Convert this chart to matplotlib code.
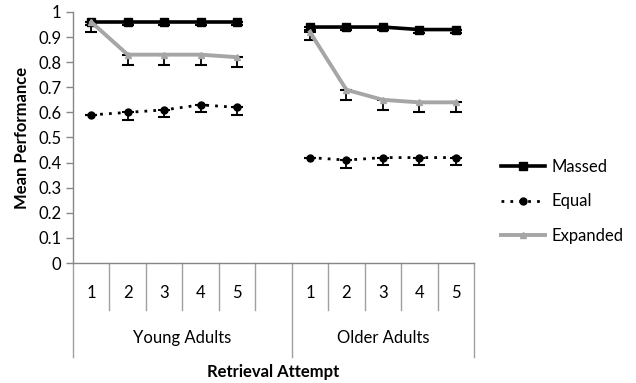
import matplotlib.pyplot as plt
import numpy as np

plt.rcParams['font.family'] = ['Lato', 'DejaVu Sans']

attempts = ['1', '2', '3', '4', '5']
groups = ['Young Adults', 'Older Adults']

massed_young = [0.96, 0.96, 0.96, 0.96, 0.96]
massed_older = [0.94, 0.94, 0.94, 0.93, 0.93]
equal_young = [0.59, 0.60, 0.61, 0.63, 0.62]
equal_older = [0.42, 0.41, 0.42, 0.42, 0.42]
expanded_young = [0.96, 0.83, 0.83, 0.83, 0.82]
expanded_older = [0.92, 0.69, 0.65, 0.64, 0.64]

massed_err_young = [0.01, 0.01, 0.01, 0.01, 0.01]
massed_err_older = [0.01, 0.01, 0.01, 0.015, 0.015]
equal_err_young = [0.0, 0.03, 0.03, 0.03, 0.03]
equal_err_older = [0.0, 0.03, 0.03, 0.03, 0.03]
expanded_err_young = [0.04, 0.04, 0.04, 0.04, 0.04]
expanded_err_older = [0.03, 0.04, 0.04, 0.04, 0.04]

x_young = np.arange(5)
x_older = np.arange(6, 11)

fig = plt.figure(figsize=(6.36, 3.83), dpi=100)
ax = fig.add_axes([0.1148, 0.3133, 0.6305, 0.6554])

series = [
    ('Massed', massed_young, massed_older, massed_err_young, massed_err_older,
     dict(color='black', lw=2.6, ls='-', marker='s', ms=5.5)),
    ('Equal', equal_young, equal_older, equal_err_young, equal_err_older,
     dict(color='black', lw=2.0, ls=(0, (1, 2.2)), marker='o', ms=5)),
    ('Expanded', expanded_young, expanded_older, expanded_err_young, expanded_err_older,
     dict(color='#a6a6a6', lw=2.8, ls='-', marker='^', ms=4.5)),
]

handles = []
for name, yy, yo, ey, eo, st in series:
    for xs, ys, es in [(x_young, yy, ey), (x_older, yo, eo)]:
        ax.errorbar(xs, ys, yerr=[es, np.zeros(len(es))], fmt='none',
                    ecolor='black', elinewidth=1.3, capsize=4, capthick=1.5, zorder=2)
        h, = ax.plot(xs, ys, color=st['color'], lw=st['lw'], ls=st['ls'],
                     marker=st['marker'], ms=st['ms'], mfc=st['color'],
                     mec=st['color'], zorder=3)
    handles.append(h)

ax.set_xlim(-0.5, 10.5)
ax.set_ylim(0, 1)
ax.set_yticks(np.arange(0, 1.01, 0.1))
ax.set_yticklabels(['0', '0.1', '0.2', '0.3', '0.4', '0.5', '0.6', '0.7', '0.8', '0.9', '1'])
ax.tick_params(axis='y', colors='#868686', labelcolor='black', labelsize=12, length=5, width=1)
ax.set_xticks([])
for s in ['top', 'right']:
    ax.spines[s].set_visible(False)
for s in ['left', 'bottom']:
    ax.spines[s].set_color('#868686')
    ax.spines[s].set_linewidth(1)

# category axis
trans = ax.get_xaxis_transform()
for b in np.arange(-0.5, 11, 1):
    depth = -0.375 if b in (-0.5, 5.5, 10.5) else -0.187
    ax.plot([b, b], [0, depth], transform=trans, color='#a0a0a0', lw=1, clip_on=False)
for xs in [x_young, x_older]:
    for x, lab in zip(xs, attempts):
        ax.text(x, -0.12, lab, transform=trans, ha='center', va='center', fontsize=12)
ax.text(2.5, -0.30, groups[0], transform=trans, ha='center', va='center', fontsize=12)
ax.text(8, -0.30, groups[1], transform=trans, ha='center', va='center', fontsize=12)

ax.text(0.5, -0.435, 'Retrieval Attempt', transform=ax.transAxes, ha='center',
        va='center', fontsize=12, fontweight='bold')
ax.set_ylabel('Mean Performance', fontsize=12, fontweight='bold', labelpad=6)

fig.legend(handles, ['Massed', 'Equal', 'Expanded'], loc='upper left',
           bbox_to_anchor=(0.77, 0.615), frameon=False, fontsize=12,
           handlelength=2.6, labelspacing=1.1, handletextpad=0.4,
           borderaxespad=0.3)

fig.savefig('out.png', dpi=100)
